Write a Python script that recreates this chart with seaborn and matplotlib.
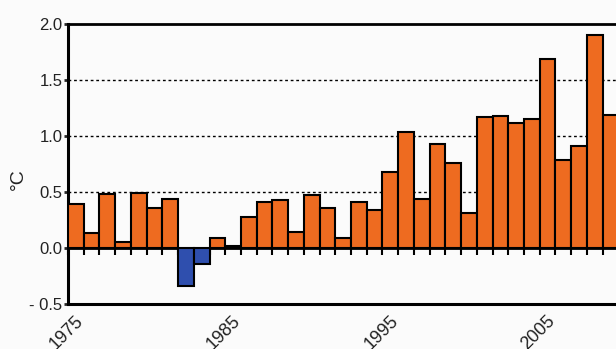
import numpy as np
import pandas as pd
import matplotlib
matplotlib.use("Agg")
import matplotlib.pyplot as plt
import matplotlib.transforms as mtransforms
import seaborn as sns

# yearly anomaly values (1975 - 2009, last bar is cut by the edge)
years = list(range(1975, 2010))
anomaly = [0.39, 0.13, 0.48, 0.05, 0.49, 0.36, 0.44, -0.34, -0.14, 0.09,
           0.02, 0.28, 0.41, 0.43, 0.14, 0.47, 0.36, 0.09, 0.41, 0.34,
           0.68, 1.04, 0.44, 0.93, 0.76, 0.31, 1.17, 1.18, 1.12, 1.15,
           1.69, 0.79, 0.91, 1.90, 1.19]
year_labels = ["1975", "1985", "1995", "2005"]
ytick_vals = [-0.5, 0.0, 0.5, 1.0, 1.5, 2.0]
ytick_labels = ["- 0.5", "0.0", "0.5", "1.0", "1.5", "2.0"]

df = pd.DataFrame({"year": years, "anomaly": anomaly})
df["sign"] = np.where(df["anomaly"] < 0, "neg", "pos")

sns.set_style("white")
plt.rcParams["font.family"] = ["Liberation Sans", "DejaVu Sans"]

fig = plt.figure(figsize=(6.16, 3.49), dpi=100)
fig.patch.set_facecolor("#fbfbfb")
ax = fig.add_axes([68 / 616, 45 / 349, (616 - 68) / 616, 280 / 349])
ax.set_facecolor("#fbfbfb")

sns.barplot(data=df, x="year", y="anomaly", hue="sign",
            palette={"pos": "#ee6b20", "neg": "#2f4fae"}, saturation=1,
            width=1.0, dodge=False, edgecolor="black", linewidth=1.5,
            legend=False, ax=ax, zorder=3)

ax.set_xlim(-0.5, 34.35)
ax.set_ylim(-0.5, 2.0)

# dotted grid lines
for v in [0.5, 1.0, 1.5]:
    ax.axhline(v, color="black", linestyle=(0, (2, 2)), linewidth=1.0, zorder=1)
ax.axhline(2.0, color="black", linewidth=2, zorder=4, clip_on=False)

# spines
for s in ["top", "right"]:
    ax.spines[s].set_visible(False)
ax.spines["left"].set_linewidth(2.2)
ax.spines["bottom"].set_linewidth(2.2)
ax.spines["left"].set_color("black")
ax.spines["bottom"].set_color("black")

# y ticks
ax.set_yticks(ytick_vals)
ax.set_yticklabels(ytick_labels)
ax.tick_params(axis="y", left=True, length=3, width=2, direction="out",
               pad=1, labelsize=12, labelcolor="#222222")

# x labels: only every 10th year, rotated
pos = [years.index(int(y)) for y in year_labels]
ax.set_xticks(pos)
ax.set_xticklabels(year_labels, rotation=45, ha="right", va="top",
                   fontsize=13, color="#222222")
ax.tick_params(axis="x", bottom=True, length=0, pad=6)
offset = mtransforms.ScaledTranslation(8 / 72, 0, fig.dpi_scale_trans)
for lab in ax.get_xticklabels():
    lab.set_transform(lab.get_transform() + offset)
ax.set_xlabel("")

# zero line with ticks between bars
sec = ax.secondary_xaxis(0.2)
sec.set_xticks([i - 0.5 for i in range(len(years) + 1)])
sec.set_xticklabels([])
sec.tick_params(axis="x", length=5, width=1.5, direction="out", color="black")
sec.spines["bottom"].set_linewidth(2)
sec.spines["bottom"].set_color("black")
sec.spines["bottom"].set_zorder(5)

ax.set_ylabel("°C", fontsize=14, color="#222222")
ax.yaxis.set_label_coords(-0.075, 0.446)

fig.savefig("out.png", dpi=100, facecolor=fig.get_facecolor())
